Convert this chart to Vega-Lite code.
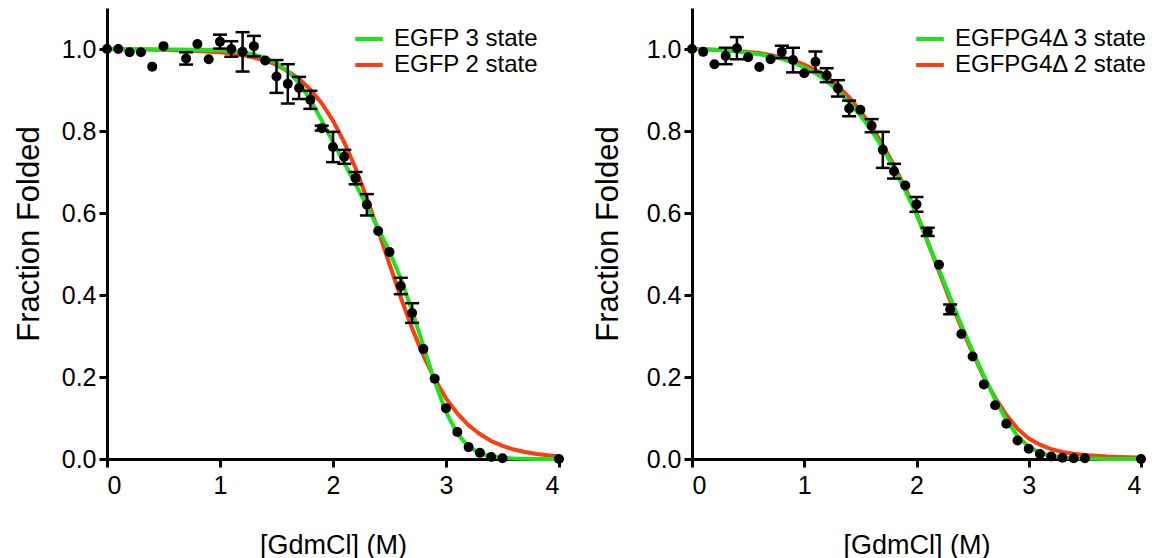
{
  "$schema": "https://vega.github.io/schema/vega-lite/v6.json",
  "background": "white",
  "padding": {"left": 13, "top": 8, "right": 0, "bottom": 0},
  "spacing": 25,
  "config": {
    "view": {"stroke": null},
    "font": "Liberation Sans",
    "axis": {
      "domainColor": "black", "domainWidth": 3, "tickColor": "black", "tickWidth": 3, "tickSize": 8,
      "labelFont": "Liberation Sans", "labelFontSize": 25, "labelColor": "black",
      "titleFont": "Liberation Sans", "titleFontSize": 27, "titleFontWeight": "normal", "titleColor": "black",
      "grid": false
    },
    "legend": {
      "labelFont": "Liberation Sans", "labelFontSize": 24, "labelColor": "black", "labelLimit": 400,
      "symbolType": "M-1.15,0H1.15", "symbolStrokeWidth": 4, "symbolSize": 576, "rowPadding": -2, "labelOffset": 11,
      "title": null, "orient": "none", "legendY": 17
    }
  },
  "datasets": {
    "ptsA": [
      {"x": 0.0, "y": 1.000, "err": 0}, {"x": 0.1, "y": 1.000, "err": 0}, {"x": 0.2, "y": 0.992, "err": 0},
      {"x": 0.3, "y": 0.992, "err": 0}, {"x": 0.4, "y": 0.957, "err": 0}, {"x": 0.5, "y": 1.007, "err": 0},
      {"x": 0.7, "y": 0.977, "err": 0.015}, {"x": 0.8, "y": 1.012, "err": 0}, {"x": 0.9, "y": 0.975, "err": 0},
      {"x": 1.0, "y": 1.018, "err": 0.017}, {"x": 1.1, "y": 1.000, "err": 0.019}, {"x": 1.2, "y": 0.993, "err": 0.048},
      {"x": 1.3, "y": 1.007, "err": 0.025}, {"x": 1.4, "y": 0.972, "err": 0}, {"x": 1.5, "y": 0.933, "err": 0.04},
      {"x": 1.6, "y": 0.915, "err": 0.048}, {"x": 1.7, "y": 0.905, "err": 0.027}, {"x": 1.8, "y": 0.876, "err": 0.022},
      {"x": 1.9, "y": 0.807, "err": 0.006}, {"x": 2.0, "y": 0.761, "err": 0.037}, {"x": 2.1, "y": 0.737, "err": 0.017},
      {"x": 2.2, "y": 0.685, "err": 0.015}, {"x": 2.3, "y": 0.620, "err": 0.026}, {"x": 2.4, "y": 0.556, "err": 0},
      {"x": 2.5, "y": 0.505, "err": 0}, {"x": 2.6, "y": 0.422, "err": 0.02}, {"x": 2.7, "y": 0.356, "err": 0.024},
      {"x": 2.8, "y": 0.268, "err": 0}, {"x": 2.9, "y": 0.196, "err": 0}, {"x": 3.0, "y": 0.124, "err": 0},
      {"x": 3.1, "y": 0.066, "err": 0}, {"x": 3.2, "y": 0.029, "err": 0}, {"x": 3.3, "y": 0.015, "err": 0},
      {"x": 3.4, "y": 0.005, "err": 0}, {"x": 3.5, "y": 0.002, "err": 0}, {"x": 4.0, "y": 0.000, "err": 0}
    ],
    "ptsB": [
      {"x": 0.0, "y": 1.000, "err": 0}, {"x": 0.1, "y": 0.993, "err": 0}, {"x": 0.2, "y": 0.963, "err": 0},
      {"x": 0.3, "y": 0.983, "err": 0.02}, {"x": 0.4, "y": 1.002, "err": 0.027}, {"x": 0.5, "y": 0.980, "err": 0},
      {"x": 0.6, "y": 0.956, "err": 0}, {"x": 0.7, "y": 0.975, "err": 0}, {"x": 0.8, "y": 0.993, "err": 0.015},
      {"x": 0.9, "y": 0.973, "err": 0.03}, {"x": 1.0, "y": 0.941, "err": 0}, {"x": 1.1, "y": 0.969, "err": 0.025},
      {"x": 1.2, "y": 0.936, "err": 0.017}, {"x": 1.3, "y": 0.904, "err": 0.02}, {"x": 1.4, "y": 0.855, "err": 0.019},
      {"x": 1.5, "y": 0.852, "err": 0}, {"x": 1.6, "y": 0.813, "err": 0.016}, {"x": 1.7, "y": 0.754, "err": 0.044},
      {"x": 1.8, "y": 0.702, "err": 0.018}, {"x": 1.9, "y": 0.667, "err": 0}, {"x": 2.0, "y": 0.621, "err": 0.018},
      {"x": 2.1, "y": 0.554, "err": 0.01}, {"x": 2.2, "y": 0.474, "err": 0}, {"x": 2.3, "y": 0.365, "err": 0.012},
      {"x": 2.4, "y": 0.305, "err": 0}, {"x": 2.5, "y": 0.250, "err": 0}, {"x": 2.6, "y": 0.182, "err": 0},
      {"x": 2.7, "y": 0.131, "err": 0}, {"x": 2.8, "y": 0.086, "err": 0}, {"x": 2.9, "y": 0.045, "err": 0},
      {"x": 3.0, "y": 0.025, "err": 0}, {"x": 3.1, "y": 0.012, "err": 0}, {"x": 3.2, "y": 0.006, "err": 0},
      {"x": 3.3, "y": 0.003, "err": 0}, {"x": 3.4, "y": 0.002, "err": 0}, {"x": 3.5, "y": 0.002, "err": 0},
      {"x": 4.0, "y": 0.000, "err": 0}
    ],
    "redA": [
      {"x": 0.0, "y": 1.000, "s": "EGFP 2 state"}, {"x": 0.2, "y": 0.999, "s": "EGFP 2 state"}, {"x": 0.4, "y": 0.999, "s": "EGFP 2 state"},
      {"x": 0.6, "y": 0.997, "s": "EGFP 2 state"}, {"x": 0.8, "y": 0.995, "s": "EGFP 2 state"}, {"x": 1.0, "y": 0.992, "s": "EGFP 2 state"},
      {"x": 1.1, "y": 0.989, "s": "EGFP 2 state"}, {"x": 1.2, "y": 0.985, "s": "EGFP 2 state"}, {"x": 1.3, "y": 0.979, "s": "EGFP 2 state"},
      {"x": 1.4, "y": 0.972, "s": "EGFP 2 state"}, {"x": 1.5, "y": 0.961, "s": "EGFP 2 state"}, {"x": 1.6, "y": 0.946, "s": "EGFP 2 state"},
      {"x": 1.7, "y": 0.927, "s": "EGFP 2 state"}, {"x": 1.8, "y": 0.901, "s": "EGFP 2 state"}, {"x": 1.9, "y": 0.868, "s": "EGFP 2 state"},
      {"x": 2.0, "y": 0.825, "s": "EGFP 2 state"}, {"x": 2.1, "y": 0.772, "s": "EGFP 2 state"}, {"x": 2.2, "y": 0.709, "s": "EGFP 2 state"},
      {"x": 2.3, "y": 0.636, "s": "EGFP 2 state"}, {"x": 2.4, "y": 0.557, "s": "EGFP 2 state"}, {"x": 2.5, "y": 0.475, "s": "EGFP 2 state"},
      {"x": 2.6, "y": 0.394, "s": "EGFP 2 state"}, {"x": 2.7, "y": 0.319, "s": "EGFP 2 state"}, {"x": 2.8, "y": 0.252, "s": "EGFP 2 state"},
      {"x": 2.9, "y": 0.195, "s": "EGFP 2 state"}, {"x": 3.0, "y": 0.148, "s": "EGFP 2 state"}, {"x": 3.1, "y": 0.111, "s": "EGFP 2 state"},
      {"x": 3.2, "y": 0.082, "s": "EGFP 2 state"}, {"x": 3.3, "y": 0.061, "s": "EGFP 2 state"}, {"x": 3.4, "y": 0.044, "s": "EGFP 2 state"},
      {"x": 3.5, "y": 0.032, "s": "EGFP 2 state"}, {"x": 3.6, "y": 0.023, "s": "EGFP 2 state"}, {"x": 3.7, "y": 0.017, "s": "EGFP 2 state"},
      {"x": 3.8, "y": 0.012, "s": "EGFP 2 state"}, {"x": 3.9, "y": 0.009, "s": "EGFP 2 state"}, {"x": 4.0, "y": 0.006, "s": "EGFP 2 state"}
    ],
    "greenA": [
      {"x": 0.0, "y": 1.000, "s": "EGFP 3 state"}, {"x": 0.2, "y": 1.000, "s": "EGFP 3 state"}, {"x": 0.4, "y": 0.999, "s": "EGFP 3 state"},
      {"x": 0.6, "y": 0.999, "s": "EGFP 3 state"}, {"x": 0.8, "y": 0.998, "s": "EGFP 3 state"}, {"x": 1.0, "y": 0.997, "s": "EGFP 3 state"},
      {"x": 1.1, "y": 0.995, "s": "EGFP 3 state"}, {"x": 1.2, "y": 0.992, "s": "EGFP 3 state"}, {"x": 1.3, "y": 0.987, "s": "EGFP 3 state"},
      {"x": 1.4, "y": 0.978, "s": "EGFP 3 state"}, {"x": 1.5, "y": 0.966, "s": "EGFP 3 state"}, {"x": 1.6, "y": 0.946, "s": "EGFP 3 state"},
      {"x": 1.7, "y": 0.917, "s": "EGFP 3 state"}, {"x": 1.8, "y": 0.876, "s": "EGFP 3 state"}, {"x": 1.9, "y": 0.826, "s": "EGFP 3 state"},
      {"x": 2.0, "y": 0.773, "s": "EGFP 3 state"}, {"x": 2.1, "y": 0.722, "s": "EGFP 3 state"}, {"x": 2.2, "y": 0.670, "s": "EGFP 3 state"},
      {"x": 2.3, "y": 0.617, "s": "EGFP 3 state"}, {"x": 2.4, "y": 0.563, "s": "EGFP 3 state"}, {"x": 2.5, "y": 0.506, "s": "EGFP 3 state"},
      {"x": 2.6, "y": 0.440, "s": "EGFP 3 state"}, {"x": 2.7, "y": 0.362, "s": "EGFP 3 state"}, {"x": 2.8, "y": 0.276, "s": "EGFP 3 state"},
      {"x": 2.9, "y": 0.189, "s": "EGFP 3 state"}, {"x": 3.0, "y": 0.115, "s": "EGFP 3 state"}, {"x": 3.1, "y": 0.062, "s": "EGFP 3 state"},
      {"x": 3.2, "y": 0.030, "s": "EGFP 3 state"}, {"x": 3.3, "y": 0.014, "s": "EGFP 3 state"}, {"x": 3.4, "y": 0.006, "s": "EGFP 3 state"},
      {"x": 3.5, "y": 0.003, "s": "EGFP 3 state"}, {"x": 3.6, "y": 0.001, "s": "EGFP 3 state"}, {"x": 3.8, "y": 0.000, "s": "EGFP 3 state"},
      {"x": 4.0, "y": 0.000, "s": "EGFP 3 state"}
    ],
    "redB": [
      {"x": 0.0, "y": 1.000, "s": "EGFPG4Δ 2 state"}, {"x": 0.2, "y": 0.998, "s": "EGFPG4Δ 2 state"}, {"x": 0.4, "y": 0.995, "s": "EGFPG4Δ 2 state"},
      {"x": 0.6, "y": 0.990, "s": "EGFPG4Δ 2 state"}, {"x": 0.8, "y": 0.980, "s": "EGFPG4Δ 2 state"}, {"x": 0.9, "y": 0.972, "s": "EGFPG4Δ 2 state"},
      {"x": 1.0, "y": 0.962, "s": "EGFPG4Δ 2 state"}, {"x": 1.1, "y": 0.949, "s": "EGFPG4Δ 2 state"}, {"x": 1.2, "y": 0.932, "s": "EGFPG4Δ 2 state"},
      {"x": 1.3, "y": 0.910, "s": "EGFPG4Δ 2 state"}, {"x": 1.4, "y": 0.882, "s": "EGFPG4Δ 2 state"}, {"x": 1.5, "y": 0.849, "s": "EGFPG4Δ 2 state"},
      {"x": 1.6, "y": 0.810, "s": "EGFPG4Δ 2 state"}, {"x": 1.7, "y": 0.766, "s": "EGFPG4Δ 2 state"}, {"x": 1.8, "y": 0.716, "s": "EGFPG4Δ 2 state"},
      {"x": 1.9, "y": 0.661, "s": "EGFPG4Δ 2 state"}, {"x": 2.0, "y": 0.601, "s": "EGFPG4Δ 2 state"}, {"x": 2.1, "y": 0.529, "s": "EGFPG4Δ 2 state"},
      {"x": 2.2, "y": 0.457, "s": "EGFPG4Δ 2 state"}, {"x": 2.3, "y": 0.386, "s": "EGFPG4Δ 2 state"}, {"x": 2.4, "y": 0.320, "s": "EGFPG4Δ 2 state"},
      {"x": 2.5, "y": 0.258, "s": "EGFPG4Δ 2 state"}, {"x": 2.6, "y": 0.200, "s": "EGFPG4Δ 2 state"}, {"x": 2.7, "y": 0.150, "s": "EGFPG4Δ 2 state"},
      {"x": 2.8, "y": 0.108, "s": "EGFPG4Δ 2 state"}, {"x": 2.9, "y": 0.074, "s": "EGFPG4Δ 2 state"}, {"x": 3.0, "y": 0.050, "s": "EGFPG4Δ 2 state"},
      {"x": 3.1, "y": 0.035, "s": "EGFPG4Δ 2 state"}, {"x": 3.2, "y": 0.024, "s": "EGFPG4Δ 2 state"}, {"x": 3.3, "y": 0.017, "s": "EGFPG4Δ 2 state"},
      {"x": 3.4, "y": 0.013, "s": "EGFPG4Δ 2 state"}, {"x": 3.5, "y": 0.010, "s": "EGFPG4Δ 2 state"}, {"x": 3.6, "y": 0.008, "s": "EGFPG4Δ 2 state"},
      {"x": 3.7, "y": 0.006, "s": "EGFPG4Δ 2 state"}, {"x": 3.8, "y": 0.005, "s": "EGFPG4Δ 2 state"}, {"x": 3.9, "y": 0.004, "s": "EGFPG4Δ 2 state"},
      {"x": 4.0, "y": 0.003, "s": "EGFPG4Δ 2 state"}
    ],
    "greenB": [
      {"x": 0.0, "y": 1.000, "s": "EGFPG4Δ 3 state"}, {"x": 0.2, "y": 0.998, "s": "EGFPG4Δ 3 state"}, {"x": 0.4, "y": 0.994, "s": "EGFPG4Δ 3 state"},
      {"x": 0.6, "y": 0.987, "s": "EGFPG4Δ 3 state"}, {"x": 0.8, "y": 0.976, "s": "EGFPG4Δ 3 state"}, {"x": 0.9, "y": 0.967, "s": "EGFPG4Δ 3 state"},
      {"x": 1.0, "y": 0.955, "s": "EGFPG4Δ 3 state"}, {"x": 1.1, "y": 0.941, "s": "EGFPG4Δ 3 state"}, {"x": 1.2, "y": 0.922, "s": "EGFPG4Δ 3 state"},
      {"x": 1.3, "y": 0.899, "s": "EGFPG4Δ 3 state"}, {"x": 1.4, "y": 0.870, "s": "EGFPG4Δ 3 state"}, {"x": 1.5, "y": 0.838, "s": "EGFPG4Δ 3 state"},
      {"x": 1.6, "y": 0.801, "s": "EGFPG4Δ 3 state"}, {"x": 1.7, "y": 0.758, "s": "EGFPG4Δ 3 state"}, {"x": 1.8, "y": 0.709, "s": "EGFPG4Δ 3 state"},
      {"x": 1.9, "y": 0.655, "s": "EGFPG4Δ 3 state"}, {"x": 2.0, "y": 0.596, "s": "EGFPG4Δ 3 state"}, {"x": 2.1, "y": 0.530, "s": "EGFPG4Δ 3 state"},
      {"x": 2.2, "y": 0.462, "s": "EGFPG4Δ 3 state"}, {"x": 2.3, "y": 0.394, "s": "EGFPG4Δ 3 state"}, {"x": 2.4, "y": 0.327, "s": "EGFPG4Δ 3 state"},
      {"x": 2.5, "y": 0.263, "s": "EGFPG4Δ 3 state"}, {"x": 2.6, "y": 0.203, "s": "EGFPG4Δ 3 state"}, {"x": 2.7, "y": 0.146, "s": "EGFPG4Δ 3 state"},
      {"x": 2.8, "y": 0.095, "s": "EGFPG4Δ 3 state"}, {"x": 2.9, "y": 0.056, "s": "EGFPG4Δ 3 state"}, {"x": 3.0, "y": 0.030, "s": "EGFPG4Δ 3 state"},
      {"x": 3.1, "y": 0.015, "s": "EGFPG4Δ 3 state"}, {"x": 3.2, "y": 0.008, "s": "EGFPG4Δ 3 state"}, {"x": 3.3, "y": 0.004, "s": "EGFPG4Δ 3 state"},
      {"x": 3.4, "y": 0.002, "s": "EGFPG4Δ 3 state"}, {"x": 3.5, "y": 0.001, "s": "EGFPG4Δ 3 state"}, {"x": 3.7, "y": 0.000, "s": "EGFPG4Δ 3 state"},
      {"x": 4.0, "y": 0.000, "s": "EGFPG4Δ 3 state"}
    ]
  },
  "resolve": {"scale": {"color": "independent"}, "legend": {"color": "independent"}},
  "hconcat": [
    {
      "width": 452, "height": 451,
      "encoding": {
        "x": {"field": "x", "type": "quantitative", "scale": {"domain": [0, 4]}, "axis": {"values": [0, 1, 2, 3, 4], "format": "d", "labelPadding": 6, "titlePadding": 34}, "title": "[GdmCl] (M)"},
        "y": {"field": "y", "type": "quantitative", "scale": {"domain": [0, 1.1]}, "axis": {"values": [0, 0.2, 0.4, 0.6, 0.8, 1.0], "format": ".1f", "labelPadding": 3, "titlePadding": 16, "titleFontSize": 31}, "title": "Fraction Folded"}
      },
      "layer": [
        {
          "data": {"name": "redA"},
          "mark": {"type": "line", "strokeWidth": 4},
          "encoding": {
            "color": {"field": "s", "type": "nominal", "scale": {"domain": ["EGFP 3 state", "EGFP 2 state"], "range": ["#19e619", "#ff3b10"]}, "legend": {"legendX": 248}}
          }
        },
        {
          "data": {"name": "greenA"},
          "mark": {"type": "line", "strokeWidth": 4},
          "encoding": {"color": {"field": "s", "type": "nominal"}}
        },
        {
          "data": {"name": "ptsA"},
          "transform": [{"filter": "datum.err > 0"}],
          "mark": {"type": "errorbar", "color": "black", "opacity": 1, "rule": {"strokeWidth": 2.5, "color": "black", "opacity": 1}, "ticks": {"size": 14, "thickness": 2.5, "color": "black", "opacity": 1}},
          "encoding": {"yError": {"field": "err"}}
        },
        {
          "data": {"name": "ptsA"},
          "mark": {"type": "circle", "size": 100, "color": "black", "opacity": 1},
          "encoding": {}
        }
      ]
    },
    {
      "width": 449, "height": 451,
      "encoding": {
        "x": {"field": "x", "type": "quantitative", "scale": {"domain": [0, 4]}, "axis": {"values": [0, 1, 2, 3, 4], "format": "d", "labelPadding": 6, "titlePadding": 34}, "title": "[GdmCl] (M)"},
        "y": {"field": "y", "type": "quantitative", "scale": {"domain": [0, 1.1]}, "axis": {"values": [0, 0.2, 0.4, 0.6, 0.8, 1.0], "format": ".1f", "labelPadding": 3, "titlePadding": 22, "titleFontSize": 31}, "title": "Fraction Folded"}
      },
      "layer": [
        {
          "data": {"name": "redB"},
          "mark": {"type": "line", "strokeWidth": 4},
          "encoding": {
            "color": {"field": "s", "type": "nominal", "scale": {"domain": ["EGFPG4Δ 3 state", "EGFPG4Δ 2 state"], "range": ["#19e619", "#ff3b10"]}, "legend": {"legendX": 224}}
          }
        },
        {
          "data": {"name": "greenB"},
          "mark": {"type": "line", "strokeWidth": 4},
          "encoding": {"color": {"field": "s", "type": "nominal"}}
        },
        {
          "data": {"name": "ptsB"},
          "transform": [{"filter": "datum.err > 0"}],
          "mark": {"type": "errorbar", "color": "black", "opacity": 1, "rule": {"strokeWidth": 2.5, "color": "black", "opacity": 1}, "ticks": {"size": 14, "thickness": 2.5, "color": "black", "opacity": 1}},
          "encoding": {"yError": {"field": "err"}}
        },
        {
          "data": {"name": "ptsB"},
          "mark": {"type": "circle", "size": 100, "color": "black", "opacity": 1},
          "encoding": {}
        }
      ]
    }
  ]
}
